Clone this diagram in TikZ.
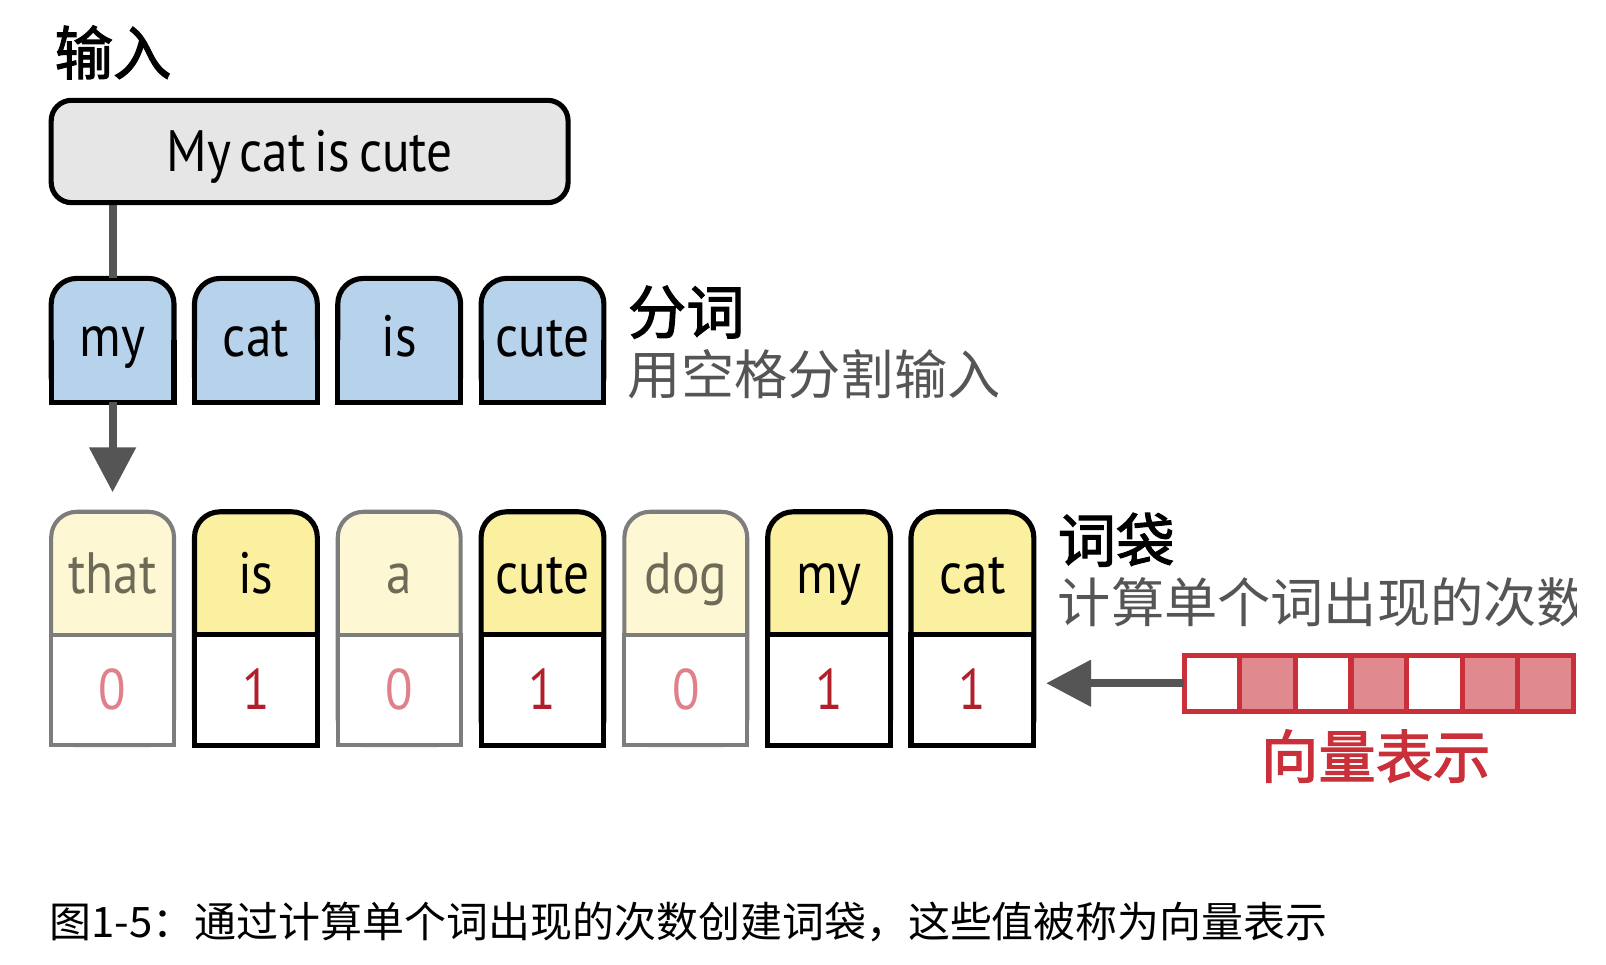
\documentclass[tikz,border=0pt]{standalone}
\usepackage{fontspec}
\setmainfont{PT Sans}
\newfontfamily\wordf{PT Sans}[FakeStretch=0.88]
\newfontfamily\sentf{PT Sans}[FakeStretch=0.88,WordSpace=0.65]
\newfontfamily\cjk{Noto Sans CJK SC}
\newfontfamily\cjkh{Noto Sans CJK SC}[RawFeature={embolden=2}]
\usetikzlibrary{arrows.meta,backgrounds}
\definecolor{inbg}{HTML}{E6E6E6}
\definecolor{tokblue}{HTML}{B7D3EB}
\definecolor{yon}{HTML}{FBEFA0}
\definecolor{yoff}{HTML}{FDF7D3}
\definecolor{graybd}{HTML}{7D7D7D}
\definecolor{conn}{HTML}{555555}
\definecolor{vred}{HTML}{C9303A}
\definecolor{vpink}{HTML}{E0898F}
\definecolor{onered}{HTML}{B01F2B}
\definecolor{offred}{HTML}{E0808A}
\definecolor{offtxt}{HTML}{6E6A58}
\definecolor{subgray}{HTML}{555555}
\begin{document}
\begin{tikzpicture}[x=0.5pt,y=-0.5pt,
  wd/.style={font=\wordf\fontsize{28.5}{28.5}\selectfont, inner sep=0pt, outer sep=0pt},
  tok/.style={wd, minimum width=60pt, minimum height=60.5pt, text height=18pt, text depth=2pt},
  wbox/.style={wd, minimum width=60pt, minimum height=60pt, text height=22pt, text depth=2pt},
  cbox/.style={font=\wordf\fontsize{28}{28}\selectfont, inner sep=0pt, outer sep=0pt, text height=19.6pt, text depth=0pt, minimum width=60pt, minimum height=54pt},
  hd/.style={font=\cjkh\fontsize{28.5}{28.5}\selectfont, inner sep=0pt, anchor=base west},
  sub/.style={font=\cjk\fontsize{26}{26}\selectfont, inner sep=0pt, anchor=base west, text=subgray},
  conline/.style={draw=conn, line width=4pt},
  arr/.style={conline, -{Triangle[length=22pt,width=22pt]}},
  bd/.style={line width=2.5pt}
]
\useasboundingbox (0,0) rectangle (1569,942);

% input
\node[hd] (lin) at (53,73) {输入};
\node[font=\sentf\fontsize{28.5}{28.5}\selectfont, inner sep=0pt, outer sep=0pt, text height=22pt, text depth=2pt, minimum width=252.5pt, minimum height=50pt, fill=inbg, draw=black, bd, rounded corners=10pt] (inbox) at (302.5,148) {My cat is cute};

% tokens
\foreach \w/\n [count=\i from 0] in {my/tmy, cat/tcat, is/tis, cute/tcute} {
  \node[tok] (\n) at (110+140*\i,332.5) {\w};
  \begin{pgfonlayer}{background}
    \filldraw[fill=tokblue, draw=black, bd, rounded corners=12.5pt] (\n.north west) rectangle (\n.south east);
    \fill[tokblue] (\n.west) rectangle (\n.south east);
    \draw[black, bd] (\n.west) -- (\n.south west) -- (\n.south east) -- (\n.east);
  \end{pgfonlayer}
}
\begin{pgfonlayer}{background}
\draw[conline] (inbox.south -| tmy.north) -- (tmy.north);
\end{pgfonlayer}

\node[hd] (lseg) at (613,326) {分词};
\node[sub] (lsegs) at (613,385) {用空格分割输入};

% bag of words
\foreach \w/\c/\k [count=\i from 0] in {that/0/0, is/1/1, a/0/0, cute/1/1, dog/0/0, my/1/1, cat/1/1} {
  \ifnum\k=1
    \colorlet{bdc}{black}\colorlet{tfc}{yon}\colorlet{wtc}{black}\colorlet{ntc}{onered}\def\bw{2.5pt}
  \else
    \colorlet{bdc}{graybd}\colorlet{tfc}{yoff}\colorlet{wtc}{offtxt}\colorlet{ntc}{offred}\def\bw{2pt}
  \fi
  \node[wbox, text=wtc] (w\i) at (110+140*\i,560) {\w};
  \node[cbox, text=ntc] (c\i) at (110+140*\i,674) {\c};
  \begin{pgfonlayer}{background}
    \filldraw[fill=tfc, draw=bdc, line width=\bw, rounded corners=12.5pt] (w\i.north west) rectangle (c\i.south east);
    \filldraw[fill=white, draw=bdc, line width=\bw] (c\i.north west) rectangle (c\i.south east);
  \end{pgfonlayer}
}

\draw[arr, shorten >=9.5pt] (tmy.south) -- (w0.north);

\node[hd] (lbag) at (1033,549) {词袋};
\begin{scope}
  \clip (1000,555) rectangle (1540,630);
  \node[sub] (lbags) at (1033,608) {计算单个词出现的次数};
\end{scope}

% vector
\node[minimum width=190pt, minimum height=27.5pt, inner sep=0pt, outer sep=0pt] (vec) at (1347,667.5) {};
\begin{pgfonlayer}{background}
\foreach \f [count=\j from 0] in {0,1,0,1,0,1,1} {
  \ifnum\f=1 \fill[vpink] (1157+54.2857*\j,640) rectangle (1211.2857+54.2857*\j,695); \fi
}
\end{pgfonlayer}
\foreach \j in {1,...,6} {
  \draw[vred, bd] (1157+54.2857*\j,640) -- (1157+54.2857*\j,695);
}
\draw[vred, bd] (vec.north west) rectangle (vec.south east);
\draw[arr, shorten >=6pt] (vec.west) -- (vec.west -| c6.east);
\node[font=\cjkh\fontsize{28}{28}\selectfont, inner sep=0pt, anchor=base, text=vred] (lvec) at (1344,760) {向量表示};

% caption
\node[font=\cjk\fontsize{20.5}{20.5}\selectfont, inner sep=0pt, anchor=base west] (cap) at (48,916) {图1-5：通过计算单个词出现的次数创建词袋，这些值被称为向量表示};
\end{tikzpicture}
\end{document}
